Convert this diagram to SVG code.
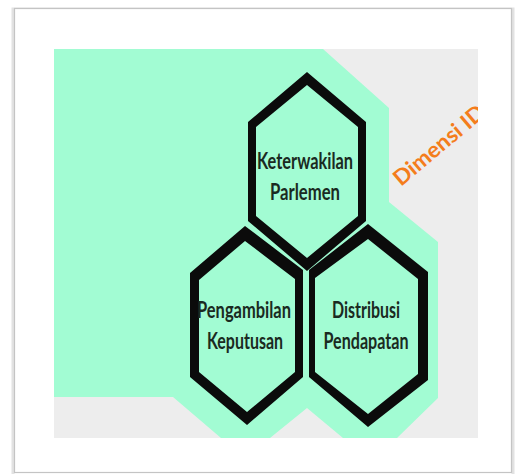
<svg xmlns="http://www.w3.org/2000/svg" width="516" height="474" viewBox="0 0 516 474">
  <defs>
    <style>
      .hex { fill: #0b0b0b; fill-rule: evenodd; }
      .lbl { font-family: Lato, "Open Sans", "Liberation Sans", sans-serif; font-size: 23px; font-weight: bold; fill: #1a2a21; text-anchor: middle; }
      .dim { font-family: Lato, "Open Sans", "Liberation Sans", sans-serif; font-size: 22px; font-weight: bold; fill: #f47d1c; }
    </style>
    <clipPath id="greyClip">
      <rect x="54" y="49" width="424" height="389"/>
    </clipPath>
  </defs>
  <rect x="0" y="0" width="516" height="474" fill="#ffffff"/>
  <!-- page frame -->
  <g id="frame">
    <rect x="13" y="9" width="500" height="470" fill="none" stroke="#e2e2e2" stroke-width="3"/>
    <rect x="14.5" y="8.5" width="497" height="464" fill="#ffffff" stroke="#c4c4c4" stroke-width="1.2"/>
  </g>
  <!-- background panels -->
  <g id="background">
    <rect x="54" y="49" width="424" height="389" fill="#ededed"/>
    <polygon fill="#a2fcd3" points="54,49 323,49 389,108 389,202 438,242 438,398 397,438 343,438 307,408 270,438 221,438 173,397 54,397"/>
  </g>
  <g id="connectors"/>
  <g id="node-keterwakilan">
    <path class="hex" d="M307,72 L366,122 L366,221 L307,271 L248,221 L248,122 Z M307,85 L256,127 L256,216 L307,258 L358,216 L358,127 Z"/>
    <text class="lbl" x="305" y="169" textLength="96" lengthAdjust="spacingAndGlyphs">Keterwakilan</text>
    <text class="lbl" x="305" y="200" textLength="70" lengthAdjust="spacingAndGlyphs">Parlemen</text>
  </g>
  <g id="node-pengambilan">
    <path class="hex" d="M245,226 L303,270 L303,377 L247,425 L190,377 L190,273 Z M245,241 L199,280 L199,372 L247,412 L295,372 L295,279 Z"/>
    <text class="lbl" x="244" y="318" textLength="94" lengthAdjust="spacingAndGlyphs">Pengambilan</text>
    <text class="lbl" x="245" y="349" textLength="76" lengthAdjust="spacingAndGlyphs">Keputusan</text>
  </g>
  <g id="node-distribusi">
    <path class="hex" d="M368,224 L428,272 L428,380 L368,427 L309,377 L309,270 Z M368,239 L315,278 L315,372 L368,414 L418,374 L418,279 Z"/>
    <text class="lbl" x="366" y="318" textLength="68" lengthAdjust="spacingAndGlyphs">Distribusi</text>
    <text class="lbl" x="366" y="349" textLength="85" lengthAdjust="spacingAndGlyphs">Pendapatan</text>
  </g>
  <g id="label-dimensi" clip-path="url(#greyClip)">
    <text class="dim" transform="translate(401,187) rotate(-40)" x="0" y="0" textLength="112" lengthAdjust="spacingAndGlyphs">Dimensi ID</text>
  </g>
</svg>
